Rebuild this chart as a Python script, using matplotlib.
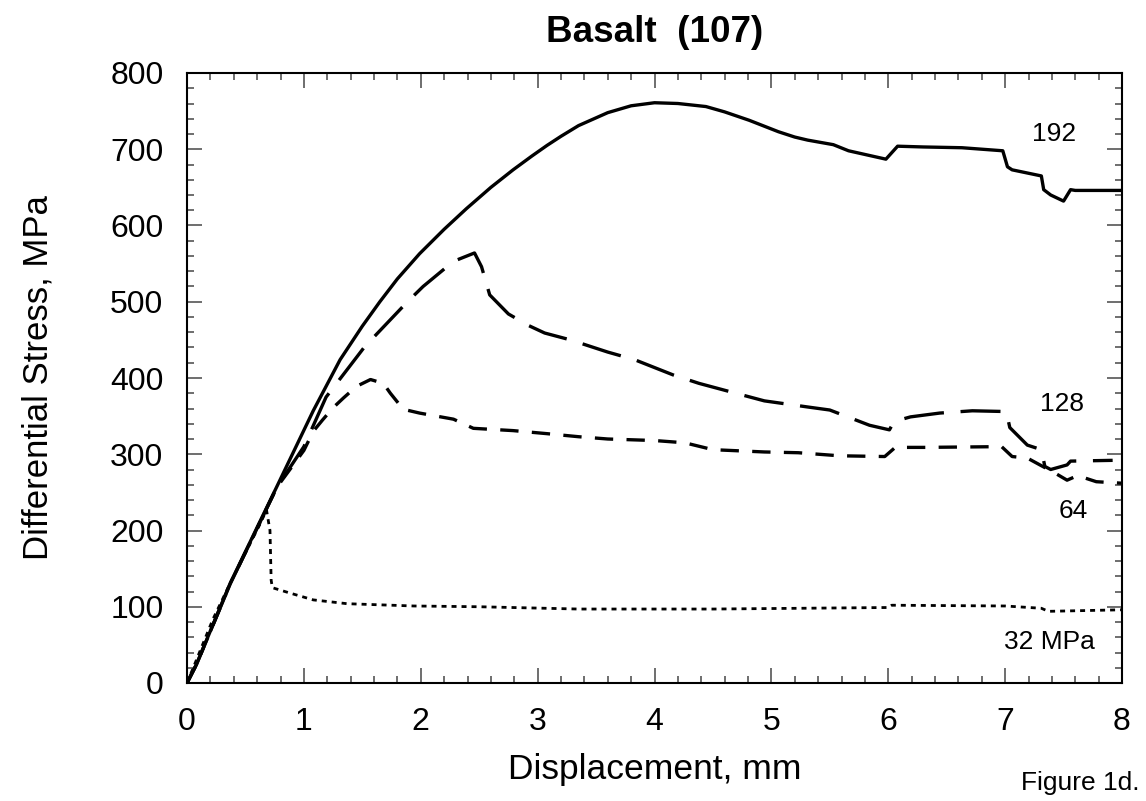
import matplotlib
matplotlib.use("Agg")
import matplotlib.pyplot as plt
from matplotlib.ticker import MultipleLocator

plt.rcParams['font.family'] = ['Liberation Sans', 'DejaVu Sans']

# 192 MPa confining pressure (solid)
x192 = [0, 0.08, 0.37, 0.77, 1.08, 1.31, 1.5, 1.65, 1.8, 1.99, 2.2, 2.39, 2.6, 2.79,
        2.95, 3.08, 3.2, 3.35, 3.6, 3.8, 4.0, 4.2, 4.44, 4.6, 4.81, 5.06, 5.2,
        5.31, 5.53, 5.66, 5.98, 6.08, 6.3, 6.63, 6.98, 7.02, 7.06, 7.31, 7.33,
        7.39, 7.5, 7.56, 7.6, 8.0]
y192 = [0, 24, 131, 258, 357, 424, 468, 500, 530, 563, 595, 622, 650, 673,
        691, 705, 717, 731, 748, 757, 761, 760, 756, 749, 738, 723, 716,
        712, 706, 698, 687, 704, 703, 702, 698, 677, 673, 665, 647,
        640, 632, 647, 646, 646]

# 128 MPa (long dashes)
x128 = [0, 0.08, 0.37, 0.77, 1.0, 1.19, 1.52, 1.88, 2.02, 2.28, 2.46, 2.52, 2.59,
        2.75, 2.92, 3.06, 3.28, 3.6, 3.83, 4.16, 4.38, 4.72, 4.94, 5.31, 5.5,
        5.84, 6.01, 6.05, 6.19, 6.44, 6.72, 7.01, 7.04, 7.19, 7.31, 7.34, 7.39,
        7.53, 7.56, 7.92]
y128 = [0, 24, 130, 257, 310, 375, 441, 499, 520, 553, 564, 546, 509,
        484, 469, 459, 450, 434, 424, 404, 393, 379, 370, 362, 358,
        338, 332, 343, 349, 354, 357, 356, 335, 312, 306, 284, 280,
        286, 291, 292]

# 64 MPa (medium dashes)
x64 = [0, 0.08, 0.37, 0.77, 1.0, 1.08, 1.16, 1.25, 1.34, 1.45, 1.57, 1.68, 1.74,
       1.85, 1.99, 2.28, 2.45, 2.79, 3.08, 3.35, 3.6, 4.0, 4.26, 4.5, 4.94,
       5.23, 5.58, 5.97, 6.06, 6.31, 6.97, 7.06, 7.19, 7.31, 7.43, 7.53, 7.62,
       7.78, 8.0]
y64 = [0, 24, 130, 257, 305, 330, 345, 361, 374, 389, 398, 393, 380,
       359, 354, 346, 334, 331, 327, 323, 320, 318, 315, 306, 303,
       302, 298, 297, 309, 309, 310, 297, 295, 285, 275, 266, 272,
       264, 262]

# 32 MPa (dotted)
x32 = [0, 0.08, 0.22, 0.37, 0.51, 0.63, 0.68, 0.71, 0.72, 0.73, 0.88, 1.08, 1.37,
       1.94, 2.5, 3.35, 4.5, 6.0, 6.03, 7.0, 7.31, 7.37, 8.0]
y32 = [0, 30, 83, 131, 174, 210, 227, 200, 135, 125, 118, 109, 104,
       101, 100, 97, 97, 99, 102, 101, 98, 94, 96]

fig = plt.figure(figsize=(11.46, 8.01), dpi=100)
ax = fig.add_axes([187/1146, 1 - 683/801, (1122-187)/1146, (683-73)/801])

ax.plot(x192, y192, color='black', lw=2.4, solid_joinstyle='round')
ax.plot(x128, y128, color='black', lw=2.4, linestyle=(0, (12, 5)))
ax.plot(x64, y64, color='black', lw=2.4, linestyle=(0, (5.5, 4)))
ax.plot(x32, y32, color='black', lw=2.0, linestyle=(0, (1.8, 1.8)))

ax.set_xlim(0, 8)
ax.set_ylim(0, 800)
ax.xaxis.set_major_locator(MultipleLocator(1))
ax.xaxis.set_minor_locator(MultipleLocator(0.2))
ax.yaxis.set_major_locator(MultipleLocator(100))
ax.yaxis.set_minor_locator(MultipleLocator(20))
ax.tick_params(which='both', direction='in', top=True, right=True,
               color='#555555', width=1.2)
ax.tick_params(which='major', length=11, labelsize=23)
ax.tick_params(axis='x', which='major', pad=17)
ax.tick_params(axis='y', which='major', pad=17)
ax.tick_params(which='minor', length=5)
for s in ax.spines.values():
    s.set_linewidth(1.5)

ax.set_xlabel('Displacement, mm', fontsize=25.5, labelpad=12)
ax.set_ylabel('Differential Stress, MPa', fontsize=25, labelpad=40)
ax.set_title('Basalt  (107)', fontsize=26.5, fontweight='bold', pad=22)

ax.text(7.42, 720, '192', fontsize=19, ha='center', va='center')
ax.text(7.49, 366, '128', fontsize=19, ha='center', va='center')
ax.text(7.58, 226, '64', fontsize=19, ha='center', va='center')
ax.text(7.38, 54, '32 MPa', fontsize=19, ha='center', va='center')
fig.text(1080/1146, 1 - 783/801, 'Figure 1d.', fontsize=19, ha='center', va='center')

fig.savefig('out.png', dpi=100)
